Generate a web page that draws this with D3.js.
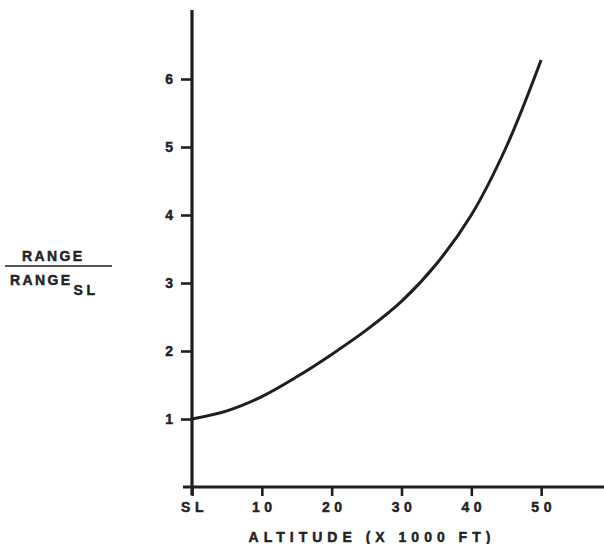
<!DOCTYPE html>
<html><head><meta charset="utf-8">
<script src="https://cdn.jsdelivr.net/npm/d3@7"></script>
<style>
body{margin:0;background:#fff;}
text{font-family:"Liberation Sans",Arial,sans-serif;font-weight:bold;fill:#222;stroke:#222;stroke-width:0.45px;}
</style></head>
<body><svg id="c" width="604" height="544"></svg>
<script>
const altitudes = [0, 5, 10, 15, 20, 25, 30, 35, 40, 45, 50];
const rangeRatio = [1.00, 1.12, 1.33, 1.62, 1.95, 2.31, 2.73, 3.28, 4.00, 5.00, 6.28];
const xTicks = [0, 10, 20, 30, 40, 50];
const xTickLabels = ["SL", "10", "20", "30", "40", "50"];
const yTicks = [1, 2, 3, 4, 5, 6];

const svg = d3.select("#c");
const x = d3.scaleLinear().domain([0, 59]).range([192, 604]);
const y = d3.scaleLinear().domain([0, 7]).range([487, 11]);
const ink = "#1e1e1e";

// x axis
const xAxis = svg.append("g").attr("transform", `translate(0,${y(0)})`)
  .call(d3.axisBottom(x).tickValues(xTicks).tickFormat((d,i)=>xTickLabels[i]).tickSize(9).tickPadding(6).tickSizeOuter(0));
xAxis.select(".domain").remove();
xAxis.selectAll("line").attr("stroke", ink).attr("stroke-width", 2.6);
xAxis.selectAll("text").attr("font-size", 14).attr("letter-spacing", 4.5).attr("fill", "#222")
  .attr("font-family", "Liberation Sans, Arial, sans-serif").attr("font-weight", "bold").attr("dx", 2);
svg.append("line").attr("x1", x(0) - 9).attr("x2", 604).attr("y1", y(0)).attr("y2", y(0))
  .attr("stroke", ink).attr("stroke-width", 3);

// y axis
const yAxis = svg.append("g").attr("transform", `translate(${x(0)},0)`)
  .call(d3.axisLeft(y).tickValues(yTicks).tickFormat(d3.format("d")).tickSize(11).tickPadding(8).tickSizeOuter(0));
yAxis.select(".domain").remove();
yAxis.selectAll("line").attr("stroke", ink).attr("stroke-width", 2.6);
yAxis.selectAll("text").attr("font-size", 14).attr("fill", "#222")
  .attr("font-family", "Liberation Sans, Arial, sans-serif").attr("font-weight", "bold");
svg.append("line").attr("x1", x(0)).attr("x2", x(0)).attr("y1", 10).attr("y2", y(0) + 8)
  .attr("stroke", ink).attr("stroke-width", 3.2);

// curve
const line = d3.line().x((d,i)=>x(altitudes[i])).y(d=>y(d)).curve(d3.curveCatmullRom.alpha(0.5));
svg.append("path").datum(rangeRatio).attr("d", line).attr("fill", "none")
  .attr("stroke", ink).attr("stroke-width", 3);

// x title
svg.append("text").attr("x", 372).attr("y", 542).attr("text-anchor", "middle")
  .attr("font-size", 14).attr("letter-spacing", 5).text("ALTITUDE (X 1000 FT)");

// y title (fraction)
svg.append("text").attr("x", 22).attr("y", 261).attr("font-size", 14).attr("letter-spacing", 2.4).text("RANGE");
svg.append("line").attr("x1", 5).attr("x2", 112).attr("y1", 266).attr("y2", 266)
  .attr("stroke", ink).attr("stroke-width", 1.6);
const den = svg.append("text").attr("x", 10).attr("y", 285).attr("font-size", 14).attr("letter-spacing", 2.4);
den.append("tspan").text("RANGE");
den.append("tspan").attr("dx", 1).attr("dy", 10).attr("letter-spacing", 3.5).text("SL");
</script></body></html>
